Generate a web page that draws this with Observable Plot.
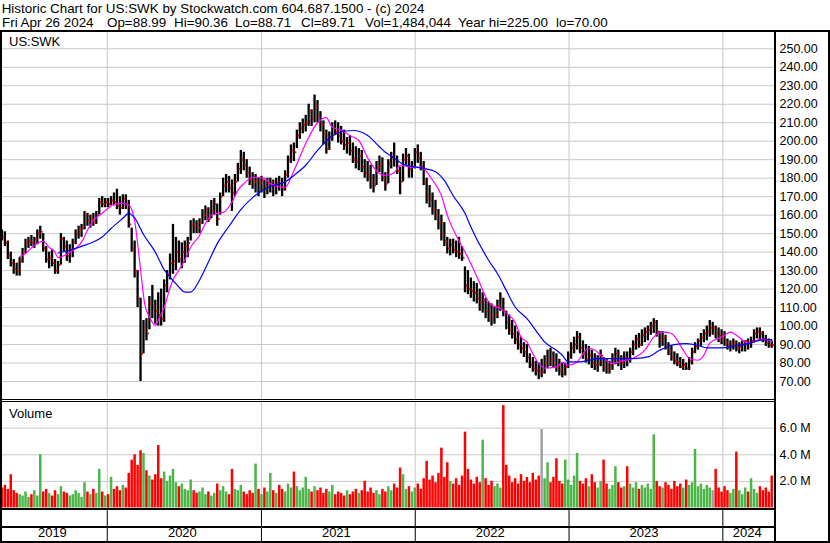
<!DOCTYPE html>
<html>
<head>
<meta charset="utf-8">
<script src="https://cdn.jsdelivr.net/npm/d3@7"></script>
<script src="https://cdn.jsdelivr.net/npm/@observablehq/plot@0.6"></script>
<style>
html,body{margin:0;padding:0;background:#fff;}
#chart{position:relative;width:830px;height:543px;overflow:hidden;background:#fff;font-family:"Liberation Sans",Arial,Helvetica,sans-serif;color:#000;}
.t{position:absolute;white-space:pre;line-height:16px;}
.h{font-size:13.4px;line-height:13px;}
.l{font-size:13px;}
.ln{position:absolute;background:#000;}
#chart svg{position:absolute;left:0;}
</style>
</head>
<body>
<div id="chart">
  <div class="t h" style="left:1.7px;top:2.1px">Historic Chart for US:SWK by Stockwatch.com 604.687.1500 - (c) 2024</div>
  <div class="t h" style="left:2px;top:15.5px">Fri Apr 26 2024</div>
  <div class="t h" style="left:107px;top:15.5px">Op=88.99</div>
  <div class="t h" style="left:174px;top:15.5px">Hi=90.36</div>
  <div class="t h" style="left:235px;top:15.5px">Lo=88.71</div>
  <div class="t h" style="left:301px;top:15.5px">Cl=89.71</div>
  <div class="t h" style="left:365px;top:15.5px">Vol=1,484,044</div>
  <div class="t h" style="left:458px;top:15.5px">Year hi=225.00</div>
  <div class="t h" style="left:556px;top:15.5px">lo=70.00</div>
  <div id="firstLine" class="ln" style="left:0;top:30px;width:830px;height:2px"></div>
  <div class="ln" style="left:0;top:30px;width:2px;height:513px"></div>
  <div class="ln" style="left:774px;top:30px;width:2px;height:513px"></div>
  <div class="ln" style="left:828px;top:30px;width:2px;height:513px"></div>
  <div class="ln" style="left:0;top:399px;width:775px;height:1px"></div>
  <div class="ln" style="left:0;top:401px;width:775px;height:1px"></div>
  <div class="ln" style="left:0;top:508px;width:775px;height:2px"></div>
  <div class="ln" style="left:0;top:526px;width:775px;height:2px"></div>
  <div class="ln" style="left:0;top:541px;width:830px;height:2px"></div>
  <div class="t l" style="left:9px;top:34.2px">US:SWK</div>
  <div class="t l" style="left:9px;top:406px">Volume</div>
</div>
<script>
// ---- data (weekly bars, Friday of each week from 2019-04-26) ----
const firstWeek = "2019-04-26";
const weekHigh = [
152,151,146,140,136,134,137,142,147,148,
149,148,152,154,150,143,140,141,136,135,
150,148,146,144,147,152,154,155,162,161,
160,161,162,169,170,169,169,170,172,174,
170,171,171,168,153,146,130,115,103,104,
116,122,114,118,120,125,130,139,155,148,
146,145,146,148,157,158,157,158,163,165,
164,168,169,166,172,180,182,181,179,182,
188,195,194,190,186,183,182,180,181,179,
180,180,179,180,181,180,184,192,198,199,
206,210,212,214,220,217,225,222,216,211,
206,205,210,211,210,208,206,202,203,199,
197,196,195,190,189,187,182,189,192,191,
183,190,194,199,192,186,193,196,193,189,
196,198,194,189,180,176,172,168,163,160,
156,148,147,147,146,148,143,132,130,126,
124,123,120,118,115,113,112,110,114,118,
115,108,106,103,100,97,94,91,90,85,
83,81,80,82,84,87,88,86,85,82,
80,80,86,91,94,97,96,92,90,89,
87,85,84,87,83,82,81,85,88,87,
84,86,86,88,92,95,96,98,99,100,
102,104,103,97,97,95,91,89,86,85,
83,82,80,83,88,91,93,96,98,100,
103,102,100,99,98,97,93,92,93,92,
91,92,92,93,94,98,99,99,97,95,
93,92];
const weekLow = [
146,143,136,132,128,127,127,134,139,142,
143,142,144,147,140,134,131,132,128,128,
133,140,135,134,137,144,147,148,152,154,
153,154,155,160,164,164,164,165,165,163,
160,163,163,153,140,126,110,70,85,92,
98,104,101,100,100,102,118,125,128,130,
134,131,134,137,146,150,150,150,155,157,
156,158,160,154,160,170,172,172,162,170,
178,182,184,180,176,174,172,170,172,169,
171,172,170,171,173,170,173,180,188,189,
196,201,204,205,208,208,210,210,205,198,
193,195,200,203,199,198,195,193,192,188,
185,184,183,180,178,174,172,176,183,178,
173,177,185,186,182,171,178,187,180,180,
185,188,184,176,166,164,160,157,152,146,
143,139,138,139,137,136,135,118,117,115,
113,112,108,107,104,102,100,101,104,108,
105,98,95,93,90,87,85,83,80,77,
75,73,71,72,74,77,78,77,75,73,
72,73,77,82,85,87,85,82,80,79,
77,76,75,78,75,74,74,76,79,78,
76,77,78,80,84,87,88,89,91,92,
95,96,94,88,89,87,84,81,79,78,
77,76,76,76,79,85,87,89,91,92,
94,95,93,91,90,89,87,86,87,86,
85,86,86,87,88,91,93,92,91,89,
88,88];
const weekClose = [
148,145,138,134,131,130,135,140,145,146,
145,147,150,151,142,136,137,134,130,133,
147,143,138,141,145,150,152,153,160,157,
158,156,160,167,166,167,166,168,167,165,
164,169,166,155,142,130,115,85,98,96,
112,110,108,106,104,122,128,134,135,140,
136,140,143,145,155,154,153,156,160,163,
158,162,166,158,170,176,178,175,172,178,
185,190,187,183,179,178,179,177,179,175,
177,178,176,178,177,174,182,190,195,194,
203,207,209,210,216,212,219,214,209,204,
196,202,207,205,203,200,198,199,195,190,
189,192,186,183,181,178,176,186,187,180,
177,188,191,190,184,178,190,192,185,186,
194,191,186,178,170,168,163,160,156,150,
146,142,144,141,140,139,137,122,120,119,
118,115,113,114,108,106,104,106,111,115,
108,102,98,96,93,90,88,86,83,79,
77,76,75,75,80,83,82,80,78,76,
74,78,84,88,90,94,88,85,82,84,
80,79,80,84,78,77,79,82,85,81,
80,83,82,86,90,93,90,95,97,98,
100,102,97,93,94,89,86,83,81,80,
78,79,77,81,86,89,92,94,96,97,
99,99,96,95,93,91,89,90,91,88,
89,90,92,91,92,96,97,96,93,91,
90,89.71];
// daily volume (millions) representative of each week
const weekVolume = [
1.5,1.7,1.4,2.5,1.3,1.1,1.0,0.9,1.2,0.8,
1.0,1.3,0.9,4.0,1.2,1.4,1.1,0.9,1.3,1.0,
1.6,1.2,1.1,0.9,1.0,1.3,1.1,0.8,1.9,1.2,
1.0,1.4,1.1,2.9,1.2,0.9,1.0,2.3,1.4,1.6,
1.3,1.7,1.5,2.6,3.6,4.0,3.2,4.3,4.1,2.8,
2.4,2.1,2.5,4.7,2.2,2.7,2.0,2.4,2.9,1.9,
1.6,1.8,1.4,1.3,2.1,1.3,1.1,1.2,1.5,1.0,
1.2,0.9,1.1,1.8,1.3,1.6,1.2,1.0,2.9,1.4,
1.3,1.7,1.2,1.0,1.3,1.1,3.3,1.4,1.0,1.5,
1.2,2.6,1.3,1.1,1.7,1.4,1.2,1.8,1.5,2.7,
1.6,1.3,1.5,2.3,1.4,1.2,1.6,1.3,1.5,1.1,
1.4,1.2,1.7,1.0,1.2,1.1,0.9,1.3,1.0,1.2,
1.4,1.1,1.3,2.0,1.2,1.5,1.1,1.3,1.0,1.4,
1.2,1.6,1.3,1.8,1.5,3.0,2.5,1.4,1.6,1.2,
1.5,1.8,1.4,2.2,3.5,2.1,2.4,1.9,2.6,4.5,
2.3,3.4,2.0,1.8,2.2,1.7,2.4,5.7,2.9,2.1,
1.8,2.3,1.9,5.1,2.2,1.7,2.0,1.6,1.8,1.5,
7.7,3.2,2.4,1.9,2.2,1.8,2.5,2.0,2.3,1.9,
2.6,2.1,2.4,5.9,2.2,3.4,1.9,2.3,3.7,2.0,
1.8,3.6,2.1,1.7,2.4,4.1,2.0,1.8,2.2,1.6,
2.5,1.9,1.5,2.0,3.6,1.8,1.4,1.7,3.1,1.9,
1.5,1.6,3.1,1.8,1.5,1.9,1.4,1.7,1.5,1.8,
1.4,5.5,2.0,1.6,1.5,1.9,1.7,1.4,2.0,1.6,
1.8,1.5,2.1,1.7,1.9,4.4,1.6,1.8,1.4,1.7,
1.5,1.3,2.9,1.5,1.2,1.6,1.3,1.1,1.4,4.2,
1.3,1.0,1.5,1.2,2.2,1.4,1.1,1.6,1.3,1.5,
1.2,2.4];
// moving averages: [week index, value]
const fastMA = [[6,137.5],[8,139.3],[11,143.7],[14,146],[16,142.6],[18,140],[19,137],[21,138],[23,140],[25,142],[27,145.4],[29,151.8],[31,157.2],[34,161],[36,163.7],[38,165.8],[41,166.4],[43,165.5],[45,157],[46.4,139],[47.4,125],[48.4,112],[50,105],[52,100.4],[53.5,105],[55,110],[56.5,118],[58,125],[60,130.2],[62,135.7],[64,142.6],[67,149],[69,155.5],[71,160],[73,161],[75,161.5],[78,167],[80,173.4],[82,177],[85,180.5],[89,180],[91,177],[96,175],[99,184],[103,198.8],[107,210],[110,212.8],[112,207.5],[115,206],[118,203],[121,200.4],[124,191],[128,182.5],[130,181.5],[133,183],[135,187],[139,186],[142,186],[146,179],[149,170.7],[151,160],[155,146],[158,137],[162,123.3],[164,115.9],[166,111.5],[169,109.6],[171,107],[174,102],[176,94],[178,91.3],[180,85],[182,79.8],[184,77.2],[188,77.9],[190,80.5],[192,78.8],[195,80.5],[197,85],[199,88],[201,87],[204,82.6],[207,79.8],[210,81],[214,82.6],[218,87],[221,94],[224,96.7],[227,96],[229,92.3],[231,87],[233,82.6],[236,81.5],[238,84.3],[240,90.8],[244,94],[247,96.7],[249,95],[253,90.8],[255,91.4],[257,93],[260,92.3],[261,91.4]];
const slowMA = [[19,139.5],[23,141],[27,143.1],[31,145.5],[34,148.2],[37,152.8],[41,158.3],[43,161],[45,158.5],[48,149.5],[52,140],[55,130.5],[59,123],[62,118.4],[64,118.4],[67,124.8],[70,134.7],[73,144.6],[77,154],[81,163],[85,169.5],[89,174],[91,175.5],[96,178],[99,181.5],[103,187],[107,195],[112,203],[116,205.4],[119,205.8],[124,203.1],[128,197],[130,194],[133,191],[136,187.5],[140,186],[143,185.3],[147,183.5],[150,178.8],[153,170.5],[157,161],[159,153.6],[165,135.6],[168,128.4],[171,119.3],[174,110.3],[178,104],[181,97.7],[184,91.4],[188,86.9],[190,84.2],[192,80.6],[196,80.6],[199,81.5],[202,82.4],[210,82.4],[214,82.4],[219,83.3],[223,86.9],[228,90],[232,90.5],[236,89.6],[239,88.2],[244,88.2],[248,89.1],[253,90.5],[257,92.3],[261,92.7]];
const priceTicks = [70,80,90,100,110,120,130,140,150,160,170,180,190,200,210,220,230,240,250];
const volumeTicks = [2,4,6];
const years = [2019,2020,2021,2022,2023,2024];

// ---- build ----
const t0 = Date.parse(firstWeek + "T00:00:00Z");
const weekDate = k => new Date(t0 + k * 7 * 86400000);
const xStart = new Date(Date.UTC(2019, 3, 25));
const xEnd = new Date(Date.UTC(2024, 4, 5));
const xDomain = [xStart, xEnd];
const yearStarts = years.slice(1).map(y => new Date(Date.UTC(y, 0, 1)));
const yearLabels = years.map(y => {
  const a = Math.max(+xStart, Date.UTC(y, 0, 1));
  const b = Math.min(+xEnd, Date.UTC(y + 1, 0, 1));
  return {label: String(y), mid: new Date((a + b) / 2)};
});
const bars = weekHigh.map((h, i) => {
  const c = weekClose[i];
  const p = i ? weekClose[i - 1] : c + 1;
  return {date: weekDate(i), hi: h, lo: weekLow[i], cl: c, vol: weekVolume[i],
    color: c > p ? "#4cb548" : c < p ? "#ff0000" : "#a0a0a0"};
});

const common = {
  width: 830, marginLeft: 1, marginRight: 55, marginTop: 0, marginBottom: 0,
  style: {fontFamily: '"Liberation Sans", Arial, sans-serif', fontSize: "12.5px",
          background: "transparent", color: "#000", overflow: "visible"}
};
const xOpt = {type: "utc", domain: xDomain, axis: null};

const priceSvg = Plot.plot({
  ...common, height: 369,
  x: xOpt,
  y: {domain: [59.73, 259.35], axis: null},
  marks: [
    Plot.ruleY(priceTicks, {stroke: "#c8c8c8"}),
    Plot.ruleX(yearStarts, {stroke: "#c8c8c8"}),
    Plot.ruleX(bars, {x: "date", y1: "lo", y2: "hi", stroke: "#000", strokeWidth: 2.3}),
    Plot.dot(bars, {x: "date", y: "cl", symbol: "square", r: 1, fill: "#ff0000", dx: 1.6}),
    Plot.line(fastMA, {x: d => weekDate(d[0]), y: d => d[1], stroke: "#ff00ff", strokeWidth: 1.2, curve: "monotone-x"}),
    Plot.line(slowMA, {x: d => weekDate(d[0]), y: d => d[1], stroke: "#0000ff", strokeWidth: 1.2, curve: "monotone-x"}),
    Plot.axisY(priceTicks, {anchor: "right", tickSize: 0, tickPadding: 4, tickFormat: d => d.toFixed(2), label: null})
  ]
});

const volSvg = Plot.plot({
  ...common, height: 106,
  x: xOpt,
  y: {domain: [-0.04, 7.93], axis: null},
  color: {type: "identity"},
  marks: [
    Plot.ruleY(volumeTicks, {stroke: "#c8c8c8"}),
    Plot.ruleX(yearStarts, {stroke: "#c8c8c8"}),
    Plot.ruleX(bars, {x: "date", y1: 0, y2: "vol", stroke: "color", strokeWidth: 2.5}),
    Plot.axisY(volumeTicks, {anchor: "right", tickSize: 0, tickPadding: 4, tickFormat: d => d.toFixed(1) + " M", label: null})
  ]
});

const yearSvg = Plot.plot({
  ...common, height: 35,
  x: xOpt,
  marks: [
    Plot.ruleX(yearStarts, {stroke: "#000"}),
    Plot.text(yearLabels, {x: "mid", text: "label", frameAnchor: "bottom", dy: -6.5, dx: -2, fontSize: 13})
  ]
});

const chart = document.getElementById("chart");
const anchor = document.getElementById("firstLine");
[[priceSvg, 31], [volSvg, 402], [yearSvg, 508]].forEach(([svg, top]) => {
  svg.style.position = "absolute";
  svg.style.left = "0px";
  svg.style.top = top + "px";
  chart.insertBefore(svg, anchor);
});
</script>
</body>
</html>
